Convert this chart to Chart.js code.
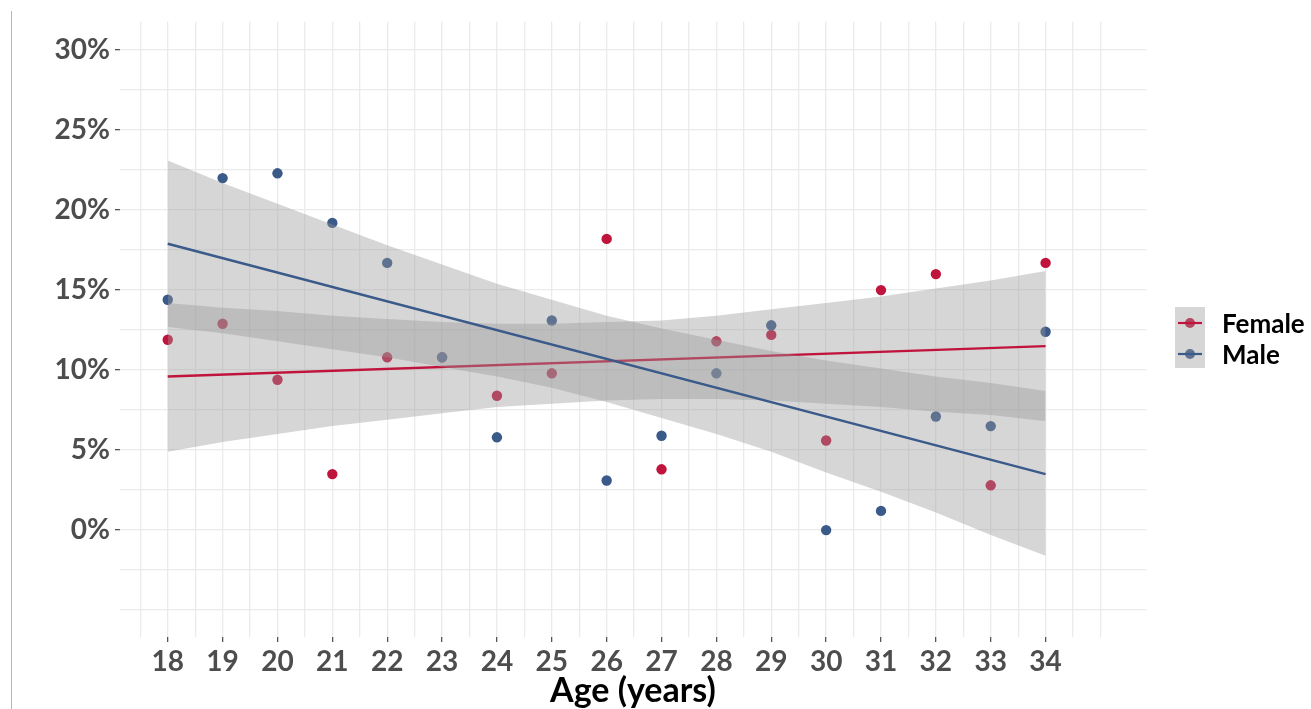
<!DOCTYPE html>
<html lang="en">
<head>
  <meta charset="UTF-8">
  <title>Rate by age and sex</title>
  <script src="https://cdn.jsdelivr.net/npm/chart.js"></script>
  <style>
    body {
      margin: 0;
      background: #fff;
    }
    .wrap {
      position: relative;
      width: 1311px;
      height: 709px;
    }
    .edge {
      position: absolute;
      left: 11px;
      top: 11px;
      bottom: 0;
      border-left: 1px solid #b5b5b5;
    }
  </style>
</head>
<body>
  <div class="wrap">
    <div class="edge"></div>
    <canvas id="ageChart" width="1311" height="709"></canvas>
  </div>

  <script>
    // values (percent)
    const ages = [18, 19, 20, 21, 22, 23, 24, 25, 26, 27, 28, 29, 30, 31, 32, 33, 34];
    const femaleRate = [11.9, 12.9, 9.4, 3.5, 10.8, 10.8, 8.4, 9.8, 18.2, 3.8, 11.8, 12.2, 5.6, 15.0, 16.0, 2.8, 16.7];
    const maleRate = [14.4, 22.0, 22.3, 19.2, 16.7, 10.8, 5.8, 13.1, 3.1, 5.9, 9.8, 12.8, 0.0, 1.2, 7.1, 6.5, 12.4];

    // fitted lines (ends) and their confidence bands
    const fitAges = [18, 34];
    const femaleFit = [9.6, 11.5];
    const maleFit = [17.9, 3.5];
    const femaleUpper = [14.2, 13.9, 13.7, 13.4, 13.2, 13.0, 12.9, 12.9, 13.0, 13.1, 13.4, 13.8, 14.2, 14.6, 15.1, 15.6, 16.2];
    const femaleLower = [4.9, 5.5, 6.0, 6.5, 6.9, 7.3, 7.7, 7.9, 8.1, 8.2, 8.2, 8.1, 7.9, 7.7, 7.4, 7.2, 6.8];
    const maleUpper = [23.1, 21.7, 20.4, 19.1, 17.8, 16.6, 15.4, 14.4, 13.4, 12.6, 11.9, 11.2, 10.6, 10.1, 9.6, 9.2, 8.7];
    const maleLower = [12.7, 12.3, 11.8, 11.3, 10.8, 10.2, 9.6, 8.9, 8.0, 7.0, 6.0, 4.9, 3.6, 2.4, 1.1, -0.3, -1.6];

    const yTickValues = [-5, -2.5, 0, 2.5, 5, 7.5, 10, 12.5, 15, 17.5, 20, 22.5, 25, 27.5, 30];
    const xTickValues = [17.5, 18, 18.5, 19, 19.5, 20, 20.5, 21, 21.5, 22, 22.5, 23, 23.5, 24, 24.5, 25, 25.5,
      26, 26.5, 27, 27.5, 28, 28.5, 29, 29.5, 30, 30.5, 31, 31.5, 32, 32.5, 33, 33.5, 34, 34.5, 35];

    const RED = '#c0143c';
    const BLUE = '#3a5a8a';
    const BAND = 'rgba(153, 153, 153, 0.4)';
    const FONT = "Lato, 'Open Sans', sans-serif";

    const pts = (xs, ys) => xs.map((x, i) => ({ x: x, y: ys[i] }));

    function band(label, values, fill, order) {
      return {
        label: label,
        data: pts(ages, values),
        showLine: true,
        borderWidth: 0,
        borderColor: 'transparent',
        pointRadius: 0,
        backgroundColor: BAND,
        fill: fill,
        order: order
      };
    }

    // ggplot style legend drawn next to the plot
    const sideLegend = {
      id: 'sideLegend',
      afterDraw(chart) {
        const c = chart.ctx;
        const x0 = chart.chartArea.right + 29;
        const y0 = 307;
        const items = [['Female', RED], ['Male', BLUE]];
        c.save();
        items.forEach((it, i) => {
          const cy = y0 + 16 + i * 31;
          c.fillStyle = it[1];
          c.beginPath();
          c.arc(x0 + 15, cy, 5, 0, Math.PI * 2);
          c.fill();
        });
        c.fillStyle = BAND;
        c.fillRect(x0, y0, 30, 61);
        items.forEach((it, i) => {
          const cy = y0 + 16 + i * 31;
          c.strokeStyle = it[1];
          c.lineWidth = 2.2;
          c.beginPath();
          c.moveTo(x0 + 3, cy);
          c.lineTo(x0 + 27, cy);
          c.stroke();
          c.fillStyle = '#000';
          c.font = 'bold 26px ' + FONT;
          c.textBaseline = 'middle';
          c.fillText(it[0], x0 + 47, cy + 2);
        });
        c.restore();
      }
    };

    const ctx = document.getElementById('ageChart').getContext('2d');
    new Chart(ctx, {
      type: 'scatter',
      data: {
        datasets: [
          { label: 'Female', data: pts(ages, femaleRate), backgroundColor: RED, borderWidth: 0, pointRadius: 5.2, order: 6 },
          { label: 'Male', data: pts(ages, maleRate), backgroundColor: BLUE, borderWidth: 0, pointRadius: 5.2, order: 5 },
          band('Female upper', femaleUpper, false, 4),
          band('Female lower', femaleLower, '-1', 4),
          { label: 'Female fit', data: pts(fitAges, femaleFit), showLine: true, borderColor: RED, borderWidth: 2.4, pointRadius: 0, order: 3 },
          band('Male upper', maleUpper, false, 2),
          band('Male lower', maleLower, '-1', 2),
          { label: 'Male fit', data: pts(fitAges, maleFit), showLine: true, borderColor: BLUE, borderWidth: 2.4, pointRadius: 0, order: 1 }
        ]
      },
      options: {
        responsive: false,
        animation: false,
        events: [],
        layout: { padding: { top: 21, right: 165, left: 0, bottom: 0 } },
        plugins: {
          legend: { display: false },
          tooltip: { enabled: false }
        },
        scales: {
          x: {
            type: 'linear',
            min: 17.13,
            max: 35.83,
            afterBuildTicks: s => { s.ticks = xTickValues.map(v => ({ value: v })); },
            afterFit: s => { s.height = 72; },
            border: { display: false },
            grid: {
              color: '#ebebeb',
              lineWidth: 1.3,
              tickLength: 5,
              tickColor: c => Number.isInteger(c.tick.value) && c.tick.value >= 18 && c.tick.value <= 34 ? '#555' : 'transparent'
            },
            ticks: {
              autoSkip: false,
              maxRotation: 0,
              padding: 3,
              color: '#4d4d4d',
              font: { family: FONT, size: 28, weight: 'bold' },
              callback: v => (Number.isInteger(v) && v >= 18 && v <= 34) ? String(v) : ''
            },
            title: {
              display: true,
              text: 'Age (years)',
              color: '#000',
              font: { family: FONT, size: 34, weight: 'bold' },
              padding: { top: 0, bottom: -2 }
            }
          },
          y: {
            min: -6.68,
            max: 31.77,
            afterBuildTicks: s => { s.ticks = yTickValues.map(v => ({ value: v })); },
            afterFit: s => { s.width = 120; },
            border: { display: false },
            grid: {
              color: '#ebebeb',
              lineWidth: 1.3,
              tickLength: 5,
              tickColor: c => (c.tick.value >= 0 && c.tick.value % 5 === 0) ? '#555' : 'transparent'
            },
            ticks: {
              padding: 5,
              color: '#4d4d4d',
              font: { family: FONT, size: 28, weight: 'bold' },
              callback: v => (v >= 0 && v % 5 === 0) ? v + '%' : ''
            }
          }
        }
      },
      plugins: [sideLegend]
    });
  </script>
</body>
</html>
